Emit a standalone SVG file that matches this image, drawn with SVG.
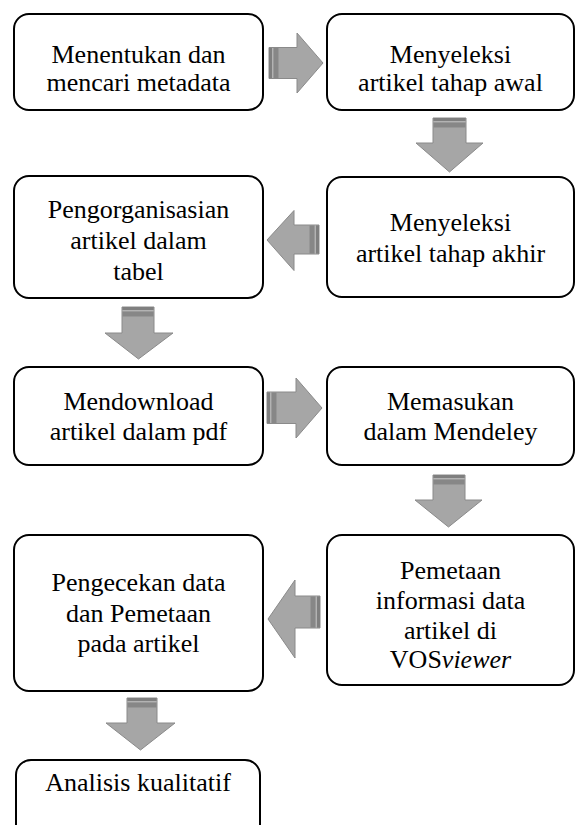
<svg xmlns="http://www.w3.org/2000/svg" width="577" height="825" viewBox="0 0 577 825">
<style>
.box{fill:#ffffff;stroke:#000000;stroke-width:2}
text{font-family:'Liberation Serif','Times New Roman',serif;font-size:26px;fill:#000000;text-anchor:middle}
.ar{fill:#a6a6a6;stroke:#8a8a8a;stroke-width:1}
.s1{fill:#7f7f7f}
.s2{fill:#b3b3b3}
.s3{fill:#878787}
</style>
<rect width="577" height="825" fill="#ffffff"/>
<g id="connectors">
  <g id="a1">
    <polygon class="ar" points="269,47.5 297,47.5 297,33 323,63 297,93 297,78.5 269,78.5"/>
    <rect class="s1" x="269" y="48" width="3" height="30"/>
    <rect class="s2" x="272" y="48" width="1.5" height="30"/>
    <rect class="s3" x="273.5" y="48" width="5" height="30"/>
  </g>
  <g id="a2">
    <polygon class="ar" points="433,118 466,118 466,143 483,143 449.5,172 416,143 433,143"/>
    <rect class="s1" x="433.5" y="118" width="32" height="3"/>
    <rect class="s2" x="433.5" y="121" width="32" height="1.5"/>
    <rect class="s3" x="433.5" y="122.5" width="32" height="5"/>
  </g>
  <g id="a3">
    <polygon class="ar" points="319,225 294,225 294,210.5 267,240 294,270.5 294,254 319,254"/>
    <rect class="s1" x="316" y="225.5" width="3" height="28"/>
    <rect class="s2" x="314.5" y="225.5" width="1.5" height="28"/>
    <rect class="s3" x="309.5" y="225.5" width="5" height="28"/>
  </g>
  <g id="a4">
    <polygon class="ar" points="122,307 154,307 154,333 173,333 138.5,359 105,333 122,333"/>
    <rect class="s1" x="122.5" y="307" width="31" height="3"/>
    <rect class="s2" x="122.5" y="310" width="31" height="1.5"/>
    <rect class="s3" x="122.5" y="311.5" width="31" height="5"/>
  </g>
  <g id="a5">
    <polygon class="ar" points="267,392 296,392 296,378 322,408 296,438 296,423.5 267,423.5"/>
    <rect class="s1" x="267" y="392.5" width="3" height="30.5"/>
    <rect class="s2" x="270" y="392.5" width="1.5" height="30.5"/>
    <rect class="s3" x="271.5" y="392.5" width="5" height="30.5"/>
  </g>
  <g id="a6">
    <polygon class="ar" points="433,475 465,475 465,500 482,500 448.5,527 415,500 433,500"/>
    <rect class="s1" x="433.5" y="475" width="31" height="3"/>
    <rect class="s2" x="433.5" y="478" width="31" height="1.5"/>
    <rect class="s3" x="433.5" y="479.5" width="31" height="5"/>
  </g>
  <g id="a7">
    <polygon class="ar" points="320,596 295,596 295,580 268,619 295,658 295,628 320,628"/>
    <rect class="s1" x="317" y="596.5" width="3" height="31"/>
    <rect class="s2" x="315.5" y="596.5" width="1.5" height="31"/>
    <rect class="s3" x="310.5" y="596.5" width="5" height="31"/>
  </g>
  <g id="a8">
    <polygon class="ar" points="127,698 157,698 157,723 175,723 140.5,750 106,723 127,723"/>
    <rect class="s1" x="127.5" y="698" width="29" height="3"/>
    <rect class="s2" x="127.5" y="701" width="29" height="1.5"/>
    <rect class="s3" x="127.5" y="702.5" width="29" height="5"/>
  </g>
</g>
<g id="n1">
  <rect class="box" x="14" y="14" width="249" height="96" rx="15"/>
  <text x="138.5" y="63">Menentukan dan</text>
  <text x="138.5" y="91">mencari metadata</text>
</g>
<g id="n2">
  <rect class="box" x="327" y="14" width="247" height="96" rx="15"/>
  <text x="450.5" y="63">Menyeleksi</text>
  <text x="450.5" y="91">artikel tahap awal</text>
</g>
<g id="n3">
  <rect class="box" x="327" y="177" width="247" height="120" rx="15"/>
  <text x="450.5" y="231">Menyeleksi</text>
  <text x="450.5" y="262">artikel tahap akhir</text>
</g>
<g id="n4">
  <rect class="box" x="14" y="176" width="249" height="122" rx="15"/>
  <text x="138.5" y="218">Pengorganisasian</text>
  <text x="138.5" y="249">artikel dalam</text>
  <text x="138.5" y="280">tabel</text>
</g>
<g id="n5">
  <rect class="box" x="14" y="367" width="249" height="98" rx="15"/>
  <text x="138.5" y="410">Mendownload</text>
  <text x="138.5" y="440">artikel dalam pdf</text>
</g>
<g id="n6">
  <rect class="box" x="327" y="367" width="247" height="98" rx="15"/>
  <text x="450.5" y="410">Memasukan</text>
  <text x="450.5" y="440">dalam Mendeley</text>
</g>
<g id="n7">
  <rect class="box" x="327" y="535" width="247" height="150" rx="15"/>
  <text x="450.5" y="579">Pemetaan</text>
  <text x="450.5" y="609">informasi data</text>
  <text x="450.5" y="639">artikel di</text>
  <text x="450.5" y="668">VOS<tspan font-style="italic">viewer</tspan></text>
</g>
<g id="n8">
  <rect class="box" x="14" y="535" width="249" height="156" rx="15"/>
  <text x="138.5" y="591">Pengecekan data</text>
  <text x="138.5" y="622">dan Pemetaan</text>
  <text x="138.5" y="652">pada artikel</text>
</g>
<g id="n9">
  <rect class="box" x="16" y="760" width="244" height="100" rx="15"/>
  <text x="138" y="791">Analisis kualitatif</text>
</g>
</svg>
